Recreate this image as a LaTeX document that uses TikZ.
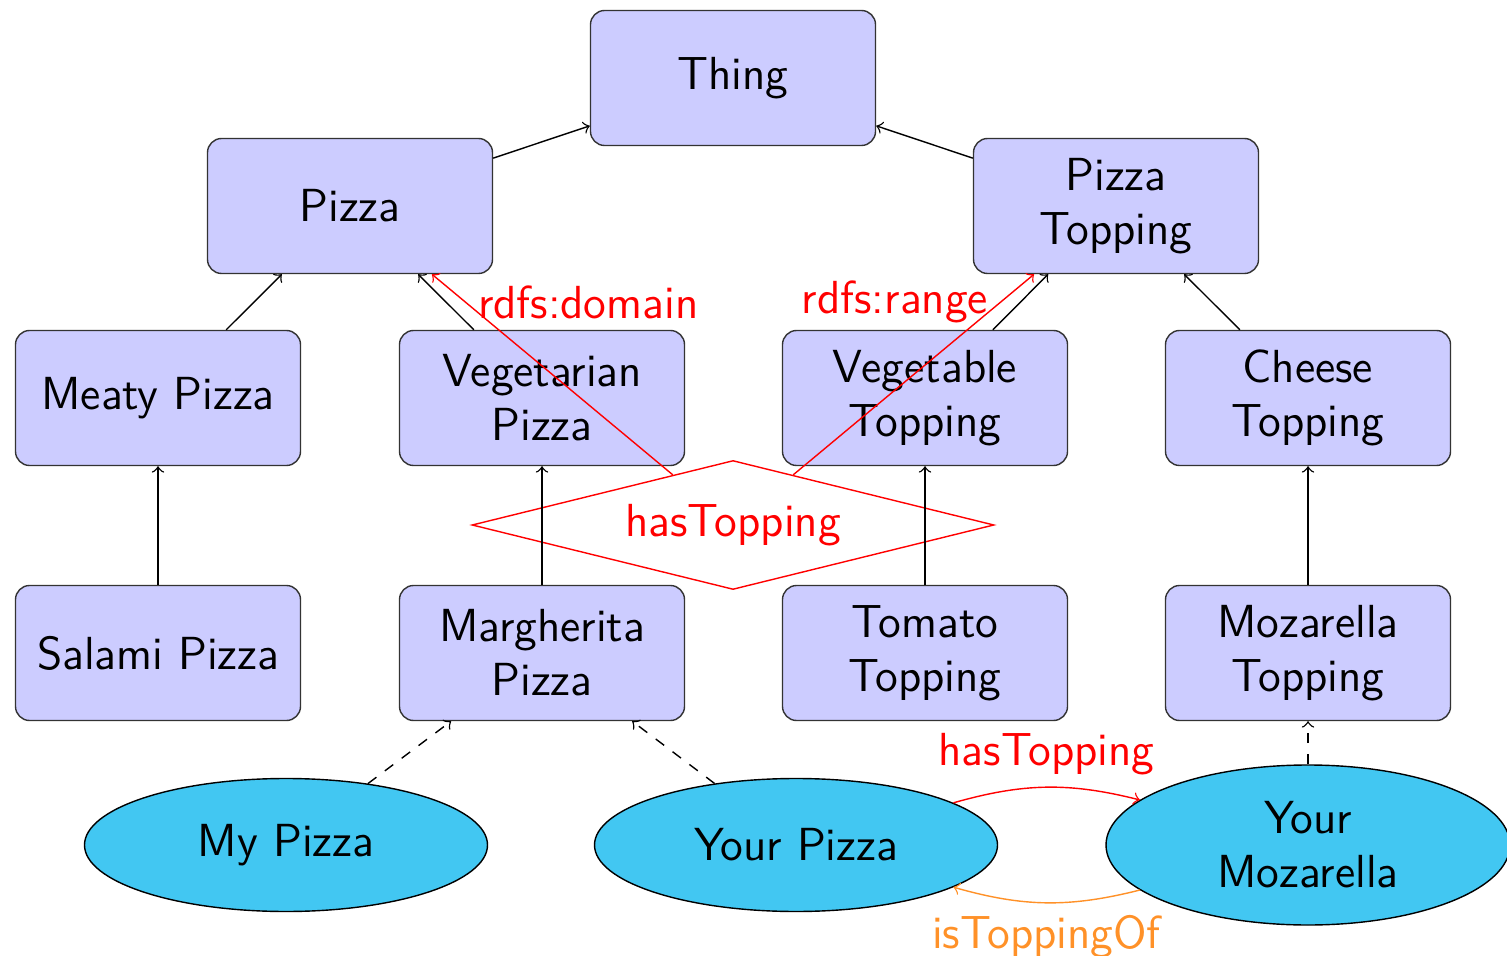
\documentclass[tikz,border=0pt]{standalone}
\usetikzlibrary{shapes.geometric}
\definecolor{indivfill}{RGB}{66,199,242}
\definecolor{inverseorange}{RGB}{255,145,40}

\begin{document}
\begin{tikzpicture}[
		font=\sffamily\fontsize{13.2}{15.4}\selectfont,
		class/.style={draw=black!80, fill=blue!20, rounded corners, minimum width=2.85cm, minimum height=1.35cm, align=center},
		indiv/.style={ellipse, draw, fill=indivfill, minimum width=4.03cm, minimum height=1.33cm, align=center},
		prop/.style={diamond, aspect=4, draw=red, text=red, minimum width=5.22cm, minimum height=1.29cm, inner sep=0pt},
	]
		%%%%% START %%%%%
		\useasboundingbox (0, 0) rectangle (15.07, -9.56);
		
		% classes
		\node[class] (thing) at (7.33, -0.78) {Thing};
		\node[class] (pizza) at (3.50, -2.06) {Pizza};
		\node[class] (topping) at (11.16, -2.06) {Pizza\\Topping};
		
		\node[class] (meaty) at (1.58, -3.98) {Meaty Pizza};
		\node[class] (veggie) at (5.42, -3.98) {Vegetarian\\Pizza};
		\node[class] (vegtop) at (9.25, -3.98) {Vegetable\\Topping};
		\node[class] (cheese) at (13.08, -3.98) {Cheese\\Topping};
		
		\node[class] (salami) at (1.58, -6.53) {Salami Pizza};
		\node[class] (margherita) at (5.42, -6.53) {Margherita\\Pizza};
		\node[class] (tomato) at (9.25, -6.53) {Tomato\\Topping};
		\node[class] (mozarella) at (13.08, -6.53) {Mozarella\\Topping};
		
		% property
		\node[prop] (has) at (7.33, -5.25) {hasTopping};
		
		% individuals
		\node[indiv] (mypizza) at (2.86, -8.45) {My Pizza};
		\node[indiv] (yourpizza) at (7.96, -8.45) {Your Pizza};
		\node[indiv, minimum width=4.04cm, minimum height=1.6cm] (yourmoz) at (13.08, -8.45) {Your\\Mozarella};
		
		% subclass arrows
		\draw[->] (pizza) -- (thing);
		\draw[->] (topping) -- (thing);
		\draw[->] (meaty) -- (pizza);
		\draw[->] (veggie) -- (pizza);
		\draw[->] (vegtop) -- (topping);
		\draw[->] (cheese) -- (topping);
		\draw[->] (salami) -- (meaty);
		\draw[->] (margherita) -- (veggie);
		\draw[->] (tomato) -- (vegtop);
		\draw[->] (mozarella) -- (cheese);
		
		% instance arrows
		\draw[->, dashed] (mypizza) -- (margherita);
		\draw[->, dashed] (yourpizza) -- (margherita);
		\draw[->, dashed] (yourmoz) -- (mozarella);
		
		% domain and range
		\draw[->, red] (has) -- node[pos=0.86, right] {rdfs:domain} (pizza);
		\draw[->, red] (has) -- node[pos=0.86, left] {rdfs:range} (topping);
		
		\draw[->, red] (yourpizza) to[bend left=15] node[above] {hasTopping} (yourmoz);
		\draw[->, inverseorange] (yourmoz) to[bend left=15] node[below] {isToppingOf} (yourpizza);
		%%%%% END %%%%%
	\end{tikzpicture}
\end{document}
